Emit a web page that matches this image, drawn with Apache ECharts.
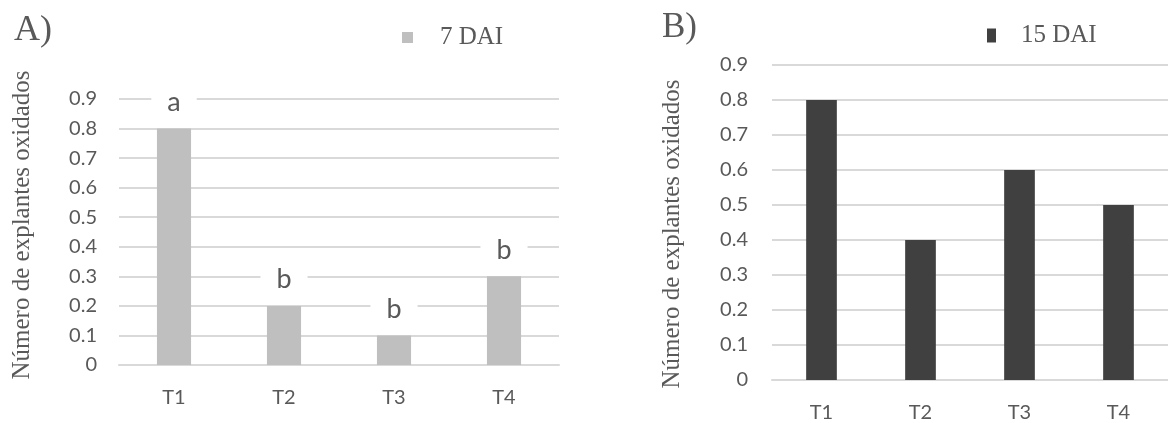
<!DOCTYPE html>
<html>
<head>
<meta charset="utf-8">
<script src="https://cdn.jsdelivr.net/npm/echarts@6/dist/echarts.min.js"></script>
<style>
  html, body { margin: 0; padding: 0; background: #fff; }
  #chart { width: 1168px; height: 423px; }
</style>
</head>
<body>
<div id="chart"></div>
<script>
// data
var categories = ['T1', 'T2', 'T3', 'T4'];
var dai7 = [0.8, 0.2, 0.1, 0.3];
var dai15 = [0.8, 0.4, 0.6, 0.5];
var letters7 = ['a', 'b', 'b', 'b'];
var yTitle = 'Número de explantes oxidados';

var grey = '#595959';
var sans = 'Lato';
var serif = 'Liberation Serif';

var chart = echarts.init(document.getElementById('chart'));

function yAx(idx, margin) {
  return {
    type: 'value', gridIndex: idx, min: 0, max: 0.9, interval: 0.1,
    axisLine: { show: false }, axisTick: { show: false },
    axisLabel: { color: grey, fontFamily: sans, fontSize: 20, margin: margin,
      formatter: function (v) { return v === 0 ? '0' : v.toFixed(1); } },
    splitLine: { lineStyle: { color: '#d9d9d9', width: 2 } }
  };
}
function xAx(idx) {
  return {
    type: 'category', gridIndex: idx, data: categories,
    axisLine: { lineStyle: { color: '#d9d9d9', width: 2 } },
    axisTick: { show: false },
    axisLabel: { color: grey, fontFamily: sans, fontSize: 20, margin: 23 }
  };
}

chart.setOption({
  animation: false,
  grid: [
    { left: 119, right: 609, top: 99, bottom: 58 },
    { left: 772, right: -18, top: 65, bottom: 41 }
  ],
  xAxis: [xAx(0), xAx(1)],
  yAxis: [yAx(0, 22), yAx(1, 24)],
  legend: [
    { data: ['7 DAI'], left: 397, top: 20, icon: 'rect', itemWidth: 11, itemHeight: 11,
      textStyle: { fontFamily: serif, fontSize: 25, color: grey, padding: [0, 0, 0, 22] } },
    { data: ['15 DAI'], left: 982, top: 18, icon: 'rect', itemWidth: 9, itemHeight: 14,
      textStyle: { fontFamily: serif, fontSize: 25, color: grey, padding: [0, 0, 0, 20] } }
  ],
  graphic: [
    { type: 'text', left: 14, top: 13, style: { text: 'A)', font: '36px "Liberation Serif"', fill: grey } },
    { type: 'text', left: 662, top: 10, style: { text: 'B)', font: '35px "Liberation Serif"', fill: grey } },
    { type: 'text', x: 22, y: 225, rotation: Math.PI / 2,
      style: { text: yTitle, font: '25px "Liberation Serif"', fill: grey, align: 'center', verticalAlign: 'middle' } },
    { type: 'text', x: 672, y: 234, rotation: Math.PI / 2,
      style: { text: yTitle, font: '25px "Liberation Serif"', fill: grey, align: 'center', verticalAlign: 'middle' } }
  ],
  series: [
    {
      name: '7 DAI', type: 'bar', xAxisIndex: 0, yAxisIndex: 0, data: dai7,
      barWidth: '31%', itemStyle: { color: '#bfbfbf' },
      label: {
        show: true, position: 'top', distance: 13,
        formatter: function (p) { return letters7[p.dataIndex]; },
        fontFamily: sans, fontSize: 27, color: grey,
        backgroundColor: '#fff', padding: [0, 16]
      }
    },
    {
      name: '15 DAI', type: 'bar', xAxisIndex: 1, yAxisIndex: 1, data: dai15,
      barWidth: '31%', itemStyle: { color: '#404040' }
    }
  ]
});
</script>
</body>
</html>
